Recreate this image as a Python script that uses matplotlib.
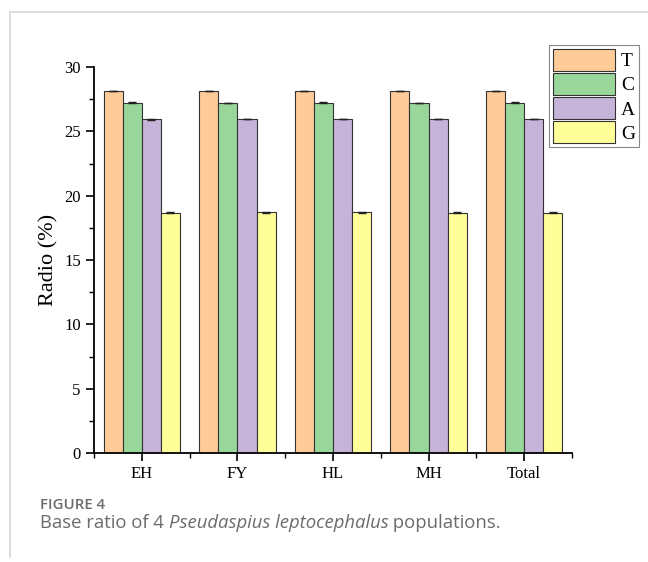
import numpy as np
import matplotlib
matplotlib.use('Agg')
import matplotlib.pyplot as plt
from matplotlib.lines import Line2D
from matplotlib.ticker import MultipleLocator

# base composition (%) per population
groups = ['EH', 'FY', 'HL', 'MH', 'Total']
bases = ['T', 'C', 'A', 'G']
T = [28.14, 28.12, 28.12, 28.13, 28.13]
C = [27.24, 27.21, 27.23, 27.22, 27.23]
A = [25.93, 25.97, 25.95, 25.96, 25.95]
G = [18.69, 18.70, 18.70, 18.69, 18.69]
err = [0.03, 0.02, 0.02, 0.02, 0.02]
couleurs = ['#FFCC99', '#99D699', '#C6B3D9', '#FFFF99']

W, H = 648, 562
fig = plt.figure(figsize=(W/100, H/100), dpi=100)
ax = fig.add_axes([94/W, 1-453/H, (572-94)/W, (453-67)/H])

x = np.arange(len(groups))
largeur = 0.2
for i, vals in enumerate([T, C, A, G]):
    pos = x + (i - 1.5)*largeur
    ax.bar(pos, vals, largeur, color=couleurs[i], edgecolor='#333333',
           linewidth=0.8, label=bases[i], zorder=2)
    ax.errorbar(pos, vals, yerr=err, fmt='none', ecolor='#222222',
                elinewidth=0.8, capsize=3, capthick=1.0, zorder=3)

ax.set_xlim(-0.5, len(groups)-0.5)
ax.set_ylim(0, 30)
ax.set_xticks(x)
ax.set_xticklabels(groups)
ax.xaxis.set_minor_locator(MultipleLocator(1, offset=0.5))
ax.yaxis.set_major_locator(MultipleLocator(5))
ax.yaxis.set_minor_locator(MultipleLocator(2.5))
ax.tick_params(axis='both', which='major', direction='out', length=6, width=1.2,
               labelsize=12)
ax.tick_params(axis='both', which='minor', direction='out', length=3.5, width=1.0)
for lab in ax.get_xticklabels() + ax.get_yticklabels():
    lab.set_family('Liberation Serif')
ax.spines['top'].set_visible(False)
ax.spines['right'].set_visible(False)
ax.spines['left'].set_linewidth(1.3)
ax.spines['bottom'].set_linewidth(1.3)
ax.set_ylabel('Radio (%)', family='Liberation Serif', fontsize=16, labelpad=4)

leg = fig.legend(loc='upper left', bbox_to_anchor=(549/W, 1-45/H),
                 prop={'family': 'Liberation Serif', 'size': 14},
                 handlelength=3.2, handleheight=1.35, handletextpad=0.3,
                 labelspacing=0.12, borderpad=0.2, borderaxespad=0,
                 fancybox=False, framealpha=1, edgecolor='#888888')
leg.get_frame().set_linewidth(0.8)

# cadre gris de la page
fig.add_artist(Line2D([10/W, 1], [1-12/H, 1-12/H], color='#d6d6d6', lw=1.2))
fig.add_artist(Line2D([10/W, 10/W], [1-12/H, 1-557/H], color='#d6d6d6', lw=1.2))

gris = '#6b6b6b'
fig.text(40/W, 1-509/H, 'FIGURE 4', family='Open Sans', fontsize=10.8,
         color=gris, weight='semibold', va='baseline')

# legende en trois morceaux (partie en italique)
morceaux = [('Base ratio of 4 ', 'normal'),
            ('Pseudaspius leptocephalus', 'italic'),
            (' populations.', 'normal')]
rend = fig.canvas.get_renderer()
xpos = 40
for txt, style in morceaux:
    t = fig.text(xpos/W, 1-528/H, txt, family='Open Sans', fontsize=13.3,
                 color=gris, style=style, va='baseline')
    xpos += t.get_window_extent(rend).width

fig.savefig('out.png', dpi=100)
